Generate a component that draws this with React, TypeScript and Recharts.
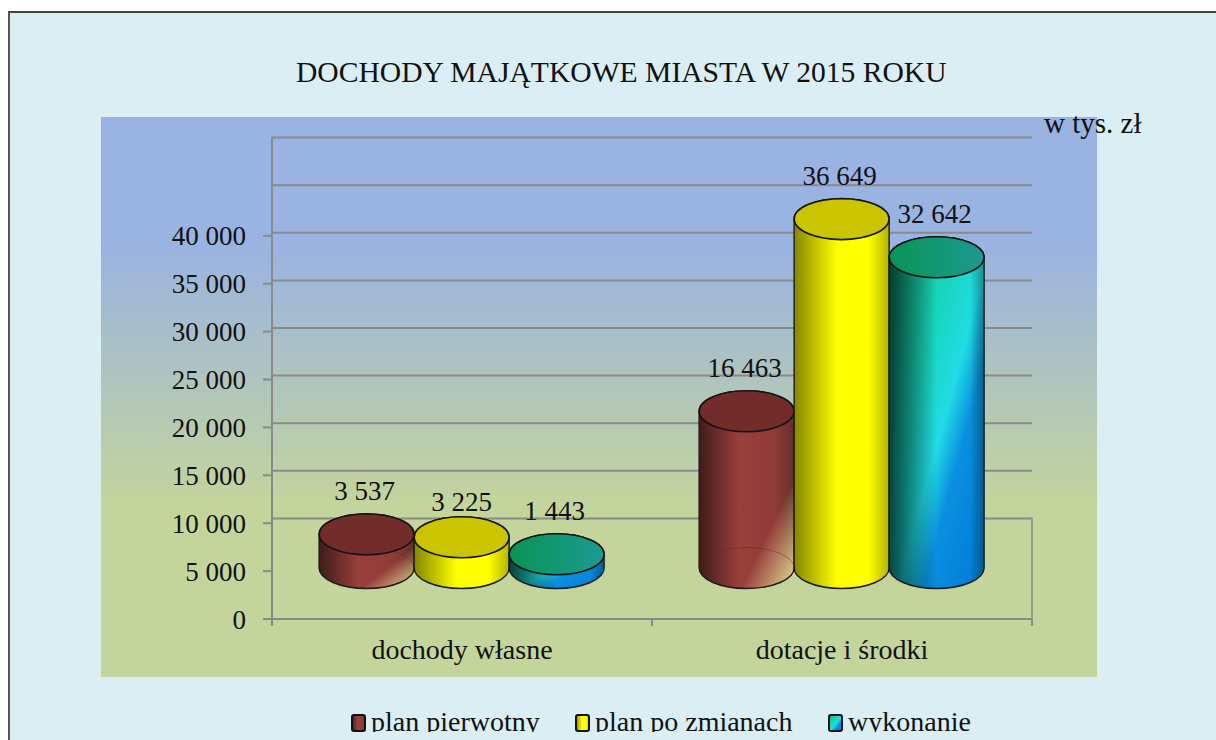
import { Bar, BarChart, CartesianGrid, LabelList, Legend, XAxis, YAxis } from "recharts";

const categories = ["dochody własne", "dotacje i środki"];
const planPierwotny = [3537, 16463];
const planPoZmianach = [3225, 36649];
const wykonanie = [1443, 32642];
const valueTicks = [0, 5000, 10000, 15000, 20000, 25000, 30000, 35000, 40000];
const wallLines = [5000, 10000, 15000, 20000, 25000, 30000, 35000, 40000, 45000];

const data = categories.map((name, i) => ({
  name,
  pierwotny: planPierwotny[i],
  zmiany: planPoZmianach[i],
  wykonanie: wykonanie[i],
}));

const FONT = "'Liberation Serif', serif";
const GRID = "#8a8a8a";
const RY = 20.5;

const fmt = (v: number) => String(v).replace(/\B(?=(\d{3})+$)/g, " ");

const skins: Record<string, any> = {
  pierwotny: { side: "url(#brownSide)", over: "url(#brownCorner)", top: "#722d2b", rim: true },
  zmiany: { side: "url(#yellowSide)", top: "#cbc400" },
  wykonanie: { side: "url(#tealSide)", over: "url(#tealShade)", top: "url(#tealTop)" },
};

const Cylinder = ({ x, y, width, height, skin }: any) => {
  const rx = width / 2;
  const cx = x + rx;
  const body = `M${x},${y} L${x},${y + height} A${rx},${RY} 0 0 0 ${x + width},${y + height} L${x + width},${y} A${rx},${RY} 0 0 0 ${x},${y} Z`;
  return (
    <g>
      <path d={body} fill={skin.side} />
      {skin.over && <path d={body} fill={skin.over} />}
      {skin.rim && (
        <path
          d={`M${x},${y + height} A${rx},${RY} 0 0 1 ${x + width},${y + height}`}
          fill="none"
          stroke="#6b2422"
          strokeOpacity={0.45}
        />
      )}
      <path d={body} fill="none" stroke="#1c1c1c" strokeWidth={1.4} />
      <ellipse cx={cx} cy={y} rx={rx} ry={RY} fill={skin.top} stroke="#141414" strokeWidth={1.6} />
    </g>
  );
};

const barLabel = ({ x, y, width, value }: any) => {
  // the 3 225 label sits lower in the original
  const odd = value === 3225;
  return (
    <text
      x={x + width / 2 - 2 + (odd ? 2 : 0)}
      y={y - 34 + (odd ? 8 : 0)}
      textAnchor="middle"
      fontFamily={FONT}
      fontSize={27}
      fill="#111"
    >
      {fmt(value)}
    </text>
  );
};

const BAND = 380;

const categoryTick = ({ x, y, payload, index }: any) => (
  <g>
    <line x1={x - BAND / 2} x2={x - BAND / 2} y1={y - 8} y2={y - 1} stroke={GRID} strokeWidth={2} />
    {index === categories.length - 1 && (
      <>
        <line x1={x + BAND / 2} x2={x + BAND / 2} y1={y - 8} y2={y - 1} stroke={GRID} strokeWidth={2} />
        <line x1={x + BAND / 2} x2={x + BAND / 2} y1={y - 8} y2={y - 109} stroke={GRID} strokeWidth={1.5} />
      </>
    )}
    <text x={x} y={32 + y} textAnchor="middle" fontFamily={FONT} fontSize={28} fill="#111">
      {payload.value}
    </text>
  </g>
);

const legendContent = ({ payload }: any) => (
  <div style={{ position: "relative", height: 24, fontFamily: FONT, fontSize: 28, lineHeight: "28px", color: "#111" }}>
    {(payload || []).map((entry: any, i: number) => (
      <span key={entry.value} style={{ position: "absolute", left: [351, 575, 828][i], top: 0, whiteSpace: "nowrap" }}>
        <svg width={16} height={18} style={{ position: "absolute", left: 0, top: 6 }}>
          <rect x={1} y={1} width={13} height={16} rx={2} fill={entry.color} stroke="#111" strokeWidth={2} />
        </svg>
        <span style={{ marginLeft: 20 }}>{entry.value}</span>
      </span>
    ))}
  </div>
);

export default function App() {
  return (
    <div style={{ position: "absolute", left: 0, top: 0, width: 1216, height: 740, overflow: "hidden", background: "#fff" }}>
      <div
        style={{
          position: "absolute",
          left: 8,
          top: 11,
          width: 1300,
          height: 800,
          background: "#daeef3",
          borderLeft: "2px solid #555",
          borderTop: "2px solid #444",
        }}
      />
      <div
        style={{
          position: "absolute",
          left: 101,
          top: 117,
          width: 996,
          height: 560,
          background: "linear-gradient(180deg, #99b3e3 0%, #99b3e3 22%, #c4d59b 70%, #c4d59b 100%)",
        }}
      />
      <div style={{ position: "absolute", left: 0, top: 0 }}>
        <BarChart
          width={1216}
          height={740}
          data={data}
          margin={{ top: 137, right: 184, bottom: 61, left: 172 }}
          barCategoryGap="12.4%"
          barGap={0}
        >
          <defs>
            <linearGradient id="brownSide" x1="0" y1="0" x2="1" y2="0">
              <stop offset="0" stopColor="#3f1c1a" />
              <stop offset="0.42" stopColor="#9a403b" />
              <stop offset="0.8" stopColor="#8f3b37" />
              <stop offset="1" stopColor="#62302c" />
            </linearGradient>
            <linearGradient id="brownCorner" x1="0" y1="0" x2="1" y2="1">
              <stop offset="0.72" stopColor="#e6d690" stopOpacity={0} />
              <stop offset="0.98" stopColor="#e6d690" stopOpacity={1} />
            </linearGradient>
            <linearGradient id="yellowSide" x1="0" y1="0" x2="1" y2="0">
              <stop offset="0" stopColor="#868600" />
              <stop offset="0.45" stopColor="#ffff00" />
              <stop offset="0.78" stopColor="#ffff00" />
              <stop offset="1" stopColor="#b4b400" />
            </linearGradient>
            <linearGradient id="tealSide" x1="0" y1="0" x2="1" y2="1">
              <stop offset="0" stopColor="#12b080" />
              <stop offset="0.33" stopColor="#18d4b4" />
              <stop offset="0.55" stopColor="#20dce4" />
              <stop offset="0.68" stopColor="#0a90e0" />
              <stop offset="1" stopColor="#0078d8" />
            </linearGradient>
            <linearGradient id="tealShade" x1="0" y1="0" x2="1" y2="0">
              <stop offset="0" stopColor="#00201c" stopOpacity={0.8} />
              <stop offset="0.5" stopColor="#00201c" stopOpacity={0} />
              <stop offset="0.85" stopColor="#00201c" stopOpacity={0} />
              <stop offset="1" stopColor="#00201c" stopOpacity={0.4} />
            </linearGradient>
            <linearGradient id="tealTop" x1="0" y1="0" x2="1" y2="0">
              <stop offset="0" stopColor="#0a9452" />
              <stop offset="1" stopColor="#1c9a94" />
            </linearGradient>
          </defs>
          <CartesianGrid yAxisId="wall" vertical={false} horizontalValues={wallLines} stroke={GRID} strokeWidth={2} />
          <XAxis
            dataKey="name"
            tick={categoryTick}
            tickLine={false}
            axisLine={{ stroke: GRID, strokeWidth: 2 }}
            height={60}
            interval={0}
          />
          <YAxis
            yAxisId="value"
            type="number"
            domain={[0, 50313]}
            allowDataOverflow
            ticks={valueTicks}
            interval={0}
            width={100}
            tickSize={9}
            tickMargin={17}
            tickFormatter={fmt}
            axisLine={{ stroke: GRID, strokeWidth: 2 }}
            tickLine={{ stroke: GRID, strokeWidth: 2 }}
            tick={{ fontFamily: FONT, fontSize: 27, fill: "#111" }}
          />
          {/* floor of the 3D box: the wall and the columns stand higher than the axis zero */}
          <YAxis yAxisId="wall" hide width={0} type="number" domain={[-5567, 45063]} allowDataOverflow />
          <YAxis yAxisId="bars" hide width={0} type="number" domain={[-5357, 45273]} allowDataOverflow />
          <Legend
            layout="horizontal"
            align="center"
            verticalAlign="middle"
            content={legendContent}
            wrapperStyle={{ left: 0, top: 708, width: 1216, height: 24, overflow: "hidden" }}
          />
          <Bar
            yAxisId="bars"
            dataKey="pierwotny"
            name="plan pierwotny"
            fill="url(#brownSide)"
            isAnimationActive={false}
            shape={(p: any) => <Cylinder {...p} skin={skins.pierwotny} />}
          >
            <LabelList dataKey="pierwotny" content={barLabel} />
          </Bar>
          <Bar
            yAxisId="bars"
            dataKey="zmiany"
            name="plan po zmianach"
            fill="url(#yellowSide)"
            isAnimationActive={false}
            shape={(p: any) => <Cylinder {...p} skin={skins.zmiany} />}
          >
            <LabelList dataKey="zmiany" content={barLabel} />
          </Bar>
          <Bar
            yAxisId="bars"
            dataKey="wykonanie"
            name="wykonanie"
            fill="url(#tealSide)"
            isAnimationActive={false}
            shape={(p: any) => <Cylinder {...p} skin={skins.wykonanie} />}
          >
            <LabelList dataKey="wykonanie" content={barLabel} />
          </Bar>
        </BarChart>
      </div>
      <div style={{ position: "absolute", left: 296, top: 57, fontFamily: FONT, fontSize: 29.6, lineHeight: "30px", color: "#111", whiteSpace: "nowrap" }}>
        DOCHODY MAJĄTKOWE MIASTA W 2015 ROKU
      </div>
      <div style={{ position: "absolute", left: 1044, top: 108, fontFamily: FONT, fontSize: 29, lineHeight: "30px", color: "#111", whiteSpace: "nowrap" }}>
        w tys. zł
      </div>
    </div>
  );
}
